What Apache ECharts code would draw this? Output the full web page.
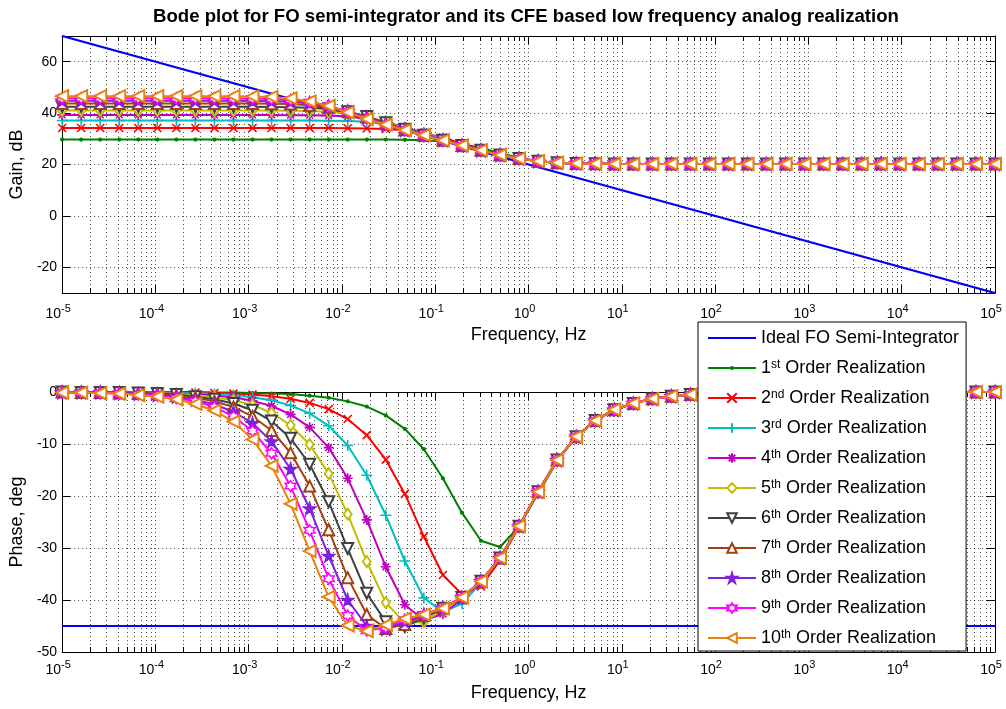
<!DOCTYPE html>
<html><head><meta charset="utf-8">
<script src="https://cdn.jsdelivr.net/npm/echarts@6/dist/echarts.min.js"></script>
<style>html,body{margin:0;padding:0;background:#fff}#c{width:1006px;height:709px}</style>
</head><body><div id="c"></div>
<script>
// ---------------- data ----------------
const freqHz = [1e-5,1.600e-5,2.560e-5,4.095e-5,6.551e-5,1.048e-4,1.677e-4,2.683e-4,4.292e-4,6.866e-4,
  1.0985e-3,1.7575e-3,2.812e-3,4.499e-3,7.197e-3,1.1514e-2,1.8421e-2,2.9471e-2,4.7152e-2,7.5438e-2,
  0.12068,0.19307,0.30888,0.49417,0.79060,1.2649,2.0236,3.2375,5.1795,8.2864,
  13.257,21.210,33.932,54.287,86.851,138.95,222.30,355.65,568.99,910.30,
  1456.3,2329.9,3727.6,5963.6,9540.9,15264,24421,39069,62506,1e5];

const idealFreqHz = [1e-5, 1e5];
const idealGainDb = [70, -30];
const idealPhaseDeg = [-45, -45];

const gain1 = [29.7,29.7,29.7,29.7,29.7,29.7,29.7,29.7,29.7,29.7, 29.7,29.7,29.7,29.7,29.7,29.7,29.7,29.7,29.6,29.4,
  28.9,28.0,26.4,24.4,22.6,21.3,20.7,20.4,20.3,20.2, 20.2,20.2,20.2,20.2,20.2,20.2,20.2,20.2,20.2,20.2, 20.2,20.2,20.2,20.2,20.2,20.2,20.2,20.2,20.2,20.2];
const gain2 = [34.2,34.2,34.2,34.2,34.2,34.2,34.2,34.2,34.2,34.2, 34.2,34.2,34.2,34.2,34.2,34.1,34.0,33.8,33.3,32.2,
  30.5,28.1,25.7,23.8,22.3,21.3,20.7,20.4,20.3,20.2, 20.2,20.2,20.2,20.2,20.2,20.2,20.2,20.2,20.2,20.2, 20.2,20.2,20.2,20.2,20.2,20.2,20.2,20.2,20.2,20.2];
const gain3 = [37.1,37.1,37.1,37.1,37.1,37.1,37.1,37.1,37.1,37.1, 37.1,37.1,37.1,37.1,37.0,36.9,36.6,35.9,34.5,32.4,
  29.9,27.5,25.5,23.7,22.3,21.3,20.7,20.4,20.3,20.2, 20.2,20.2,20.2,20.2,20.2,20.2,20.2,20.2,20.2,20.2, 20.2,20.2,20.2,20.2,20.2,20.2,20.2,20.2,20.2,20.2];
const gain4 = [39.3,39.3,39.3,39.3,39.3,39.3,39.3,39.3,39.3,39.3, 39.3,39.3,39.2,39.2,39.1,38.7,38.0,36.6,34.5,31.9,
  29.5,27.4,25.5,23.7,22.3,21.3,20.7,20.4,20.3,20.2, 20.2,20.2,20.2,20.2,20.2,20.2,20.2,20.2,20.2,20.2, 20.2,20.2,20.2,20.2,20.2,20.2,20.2,20.2,20.2,20.2];
const gain5 = [41.0,41.0,41.0,41.0,41.0,41.0,41.0,41.0,41.0,41.0, 41.0,41.0,40.9,40.8,40.5,39.9,38.6,36.6,34.0,31.5,
  29.4,27.4,25.5,23.7,22.3,21.3,20.7,20.4,20.3,20.2, 20.2,20.2,20.2,20.2,20.2,20.2,20.2,20.2,20.2,20.2, 20.2,20.2,20.2,20.2,20.2,20.2,20.2,20.2,20.2,20.2];
const gain6 = [42.5,42.5,42.5,42.5,42.5,42.5,42.5,42.5,42.5,42.5, 42.5,42.4,42.3,42.1,41.6,40.5,38.7,36.2,33.7,31.4,
  29.4,27.4,25.5,23.7,22.3,21.3,20.7,20.4,20.3,20.2, 20.2,20.2,20.2,20.2,20.2,20.2,20.2,20.2,20.2,20.2, 20.2,20.2,20.2,20.2,20.2,20.2,20.2,20.2,20.2,20.2];
const gain7 = [43.7,43.7,43.7,43.7,43.7,43.7,43.7,43.7,43.7,43.7, 43.7,43.6,43.5,43.1,42.3,40.7,38.5,35.9,33.5,31.4,
  29.4,27.4,25.5,23.7,22.3,21.3,20.7,20.4,20.3,20.2, 20.2,20.2,20.2,20.2,20.2,20.2,20.2,20.2,20.2,20.2, 20.2,20.2,20.2,20.2,20.2,20.2,20.2,20.2,20.2,20.2];
const gain8 = [44.8,44.8,44.8,44.8,44.8,44.8,44.8,44.8,44.8,44.8, 44.7,44.6,44.4,43.8,42.6,40.7,38.2,35.7,33.4,31.4,
  29.4,27.4,25.5,23.7,22.3,21.3,20.7,20.4,20.3,20.2, 20.2,20.2,20.2,20.2,20.2,20.2,20.2,20.2,20.2,20.2, 20.2,20.2,20.2,20.2,20.2,20.2,20.2,20.2,20.2,20.2];
const gain9 = [45.8,45.8,45.8,45.8,45.8,45.8,45.8,45.8,45.8,45.7, 45.7,45.5,45.1,44.3,42.8,40.5,37.9,35.5,33.4,31.4,
  29.4,27.4,25.5,23.7,22.3,21.3,20.7,20.4,20.3,20.2, 20.2,20.2,20.2,20.2,20.2,20.2,20.2,20.2,20.2,20.2, 20.2,20.2,20.2,20.2,20.2,20.2,20.2,20.2,20.2,20.2];
const gain10 = [46.6,46.6,46.6,46.6,46.6,46.6,46.6,46.6,46.6,46.6, 46.5,46.3,45.7,44.6,42.8,40.3,37.7,35.5,33.4,31.4,
  29.4,27.4,25.5,23.7,22.3,21.3,20.7,20.4,20.3,20.2, 20.2,20.2,20.2,20.2,20.2,20.2,20.2,20.2,20.2,20.2, 20.2,20.2,20.2,20.2,20.2,20.2,20.2,20.2,20.2,20.2];

const phase1 = [0,0,0,0,0,0,0,0,-0.1,-0.1, -0.2,-0.3,-0.4,-0.7,-1.1,-1.8,-2.8,-4.5,-7.1,-11.0,
  -16.6,-23.2,-28.6,-29.8,-25.9,-19.5,-13.3,-8.6,-5.5,-3.4, -2.2,-1.3,-0.8,-0.5,-0.3,-0.2,-0.1,-0.1,-0.1,0, 0,0,0,0,0,0,0,0,0,0];
const phase2 = [0,0,0,0,0,0,-0.1,-0.1,-0.2,-0.3, -0.5,-0.8,-1.3,-2.1,-3.3,-5.2,-8.3,-13.0,-19.6,-27.8,
  -35.2,-38.9,-37.4,-32.4,-25.9,-19.2,-13.1,-8.6,-5.5,-3.4, -2.2,-1.3,-0.8,-0.5,-0.3,-0.2,-0.1,-0.1,-0.1,0, 0,0,0,0,0,0,0,0,0,0];
const phase3 = [0,0,0,0,-0.1,-0.1,-0.2,-0.2,-0.4,-0.6, -1.0,-1.6,-2.6,-4.1,-6.5,-10.3,-16.0,-23.7,-32.5,-39.6,
  -42.3,-40.7,-36.7,-31.8,-25.8,-19.2,-13.1,-8.6,-5.5,-3.4, -2.2,-1.3,-0.8,-0.5,-0.3,-0.2,-0.1,-0.1,-0.1,0, 0,0,0,0,0,0,0,0,0,0];
const phase4 = [0,0,0,-0.1,-0.1,-0.2,-0.3,-0.4,-0.7,-1.0, -1.7,-2.7,-4.3,-6.8,-10.7,-16.6,-24.6,-33.6,-40.9,-43.9,
  -42.7,-39.8,-36.4,-31.8,-25.8,-19.2,-13.1,-8.6,-5.5,-3.4, -2.2,-1.3,-0.8,-0.5,-0.3,-0.2,-0.1,-0.1,-0.1,0, 0,0,0,0,0,0,0,0,0,0];
const phase5 = [0,0,-0.1,-0.1,-0.2,-0.2,-0.4,-0.6,-1.0,-1.6, -2.5,-4.0,-6.4,-10.1,-15.7,-23.5,-32.6,-40.5,-44.4,-44.2,
  -41.9,-39.5,-36.4,-31.9,-25.8,-19.2,-13.1,-8.6,-5.5,-3.4, -2.2,-1.3,-0.8,-0.5,-0.3,-0.2,-0.1,-0.1,-0.1,0, 0,0,0,0,0,0,0,0,0,0];
const phase6 = [0,-0.1,-0.1,-0.1,-0.2,-0.3,-0.5,-0.9,-1.4,-2.2, -3.5,-5.6,-8.9,-13.9,-21.1,-30.1,-38.7,-44.2,-45.1,-43.5,
  -41.6,-39.5,-36.4,-31.9,-25.8,-19.2,-13.1,-8.6,-5.5,-3.4, -2.2,-1.3,-0.8,-0.5,-0.3,-0.2,-0.1,-0.1,-0.1,0, 0,0,0,0,0,0,0,0,0,0];
const phase7 = [0,-0.1,-0.1,-0.2,-0.3,-0.4,-0.7,-1.1,-1.8,-2.9, -4.7,-7.4,-11.7,-18.1,-26.5,-35.7,-42.8,-45.5,-44.7,-43.0,
  -41.5,-39.5,-36.4,-31.9,-25.8,-19.2,-13.1,-8.6,-5.5,-3.4, -2.2,-1.3,-0.8,-0.5,-0.3,-0.2,-0.1,-0.1,-0.1,0, 0,0,0,0,0,0,0,0,0,0];
const phase8 = [-0.1,-0.1,-0.1,-0.2,-0.4,-0.6,-0.9,-1.5,-2.4,-3.8, -6.0,-9.5,-14.8,-22.4,-31.5,-40.0,-45.0,-45.6,-44.2,-42.8,
  -41.5,-39.5,-36.4,-31.9,-25.8,-19.2,-13.1,-8.6,-5.5,-3.4, -2.2,-1.3,-0.8,-0.5,-0.3,-0.2,-0.1,-0.1,-0.1,0, 0,0,0,0,0,0,0,0,0,0];
const phase9 = [-0.1,-0.1,-0.2,-0.3,-0.5,-0.7,-1.2,-1.8,-2.9,-4.7, -7.5,-11.8,-18.1,-26.6,-35.9,-43.0,-45.9,-45.3,-43.8,-42.8,
  -41.6,-39.5,-36.4,-31.9,-25.8,-19.2,-13.1,-8.6,-5.5,-3.4, -2.2,-1.3,-0.8,-0.5,-0.3,-0.2,-0.1,-0.1,-0.1,0, 0,0,0,0,0,0,0,0,0,0];
const phase10 = [-0.1,-0.1,-0.2,-0.3,-0.6,-0.9,-1.4,-2.3,-3.6,-5.7, -9.1,-14.2,-21.5,-30.6,-39.4,-44.9,-46.0,-44.8,-43.6,-42.8,
  -41.6,-39.5,-36.4,-31.9,-25.8,-19.2,-13.1,-8.6,-5.5,-3.4, -2.2,-1.3,-0.8,-0.5,-0.3,-0.2,-0.1,-0.1,-0.1,0, 0,0,0,0,0,0,0,0,0,0];

const seriesNames = ['Ideal FO Semi-Integrator','1st Order Realization','2nd Order Realization','3rd Order Realization',
  '4th Order Realization','5th Order Realization','6th Order Realization','7th Order Realization',
  '8th Order Realization','9th Order Realization','10th Order Realization'];
const gainTickLabels = [-20, 0, 20, 40, 60];
const phaseTickLabels = [-50, -40, -30, -20, -10, 0];
const decadeExponents = [-5,-4,-3,-2,-1,0,1,2,3,4,5];

// ---------------- styling ----------------
const FONT = 'Liberation Sans';
const gains = [gain1,gain2,gain3,gain4,gain5,gain6,gain7,gain8,gain9,gain10];
const phases = [phase1,phase2,phase3,phase4,phase5,phase6,phase7,phase8,phase9,phase10];
const STAR5 = 'path://M10,0L12.245,6.91L19.511,6.91L13.633,11.18L15.878,18.09L10,13.82L4.122,18.09L6.367,11.18L0.489,6.91L7.755,6.91Z';
const STAR6 = 'path://M10,0L12.887,5L18.66,5L15.774,10L18.66,15L12.887,15L10,20L7.113,15L1.34,15L4.226,10L1.34,5L7.113,5Z';
const XMARK = 'path://M0,0L10,10M10,0L0,10';
const PLUS = 'path://M5,0L5,10M0,5L10,5';
const ASTER = 'path://M5,0L5,10M0,5L10,5M1.6,1.6L8.4,8.4M8.4,1.6L1.6,8.4';
const SMALLDOT = 'path://M0,0M12,12M3.5,6A2.5,2.5,0,1,0,8.5,6A2.5,2.5,0,1,0,3.5,6Z';
const styles = [
  {color:'#0000FF', symbol:'none', width:2.2},
  {color:'#008000', symbol:SMALLDOT, size:10, dot:true},
  {color:'#FF0000', symbol:XMARK, size:8, stroke:true},
  {color:'#00BFBF', symbol:PLUS, size:11, stroke:true},
  {color:'#BF00BF', symbol:ASTER, size:10, stroke:true},
  {color:'#BFBF00', symbol:'emptyDiamond', size:[8,11]},
  {color:'#404040', symbol:'emptyTriangle', size:11, rotate:180},
  {color:'#A5400F', symbol:'emptyTriangle', size:11},
  {color:'#7F1FDF', symbol:STAR5, size:12},
  {color:'#FF00FF', symbol:STAR6, size:11, hollow:true},
  {color:'#E8820E', symbol:'emptyTriangle', size:12, rotate:90}
];

// grid lines at 1..9 x 10^n on the log frequency axis
const gridExponents = [];
for (const n of decadeExponents.slice(0, -1)) for (let k = 1; k <= 9; k++) gridExponents.push(n + Math.log10(k));
gridExponents.push(5);

const dotted = {color:'#000', type:[1,3], width:1, opacity:0.7};
const black = {color:'#000', width:1};

function xAxesFor(g, labelMargin, nameGap) {
  const base = {gridIndex:g, type:'value', min:-5, max:5};
  return [
    Object.assign({}, base, {position:'bottom',
      axisLine:{show:true, onZero:false, lineStyle:black},
      axisTick:{show:true, inside:true, length:8, customValues:decadeExponents, lineStyle:black},
      axisLabel:{show:true, customValues:decadeExponents, margin:labelMargin, padding:[0,8,0,0],
        formatter: v => '{b|10}{s|' + Math.round(v) + '}',
        rich:{b:{fontFamily:FONT, fontSize:14, color:'#000'},
              s:{fontFamily:FONT, fontSize:11, color:'#000', padding:[0,0,12,0]}}},
      splitLine:{show:false},
      name:'Frequency, Hz', nameLocation:'middle', nameGap:nameGap,
      nameTextStyle:{fontFamily:FONT, fontSize:18, color:'#000'}}),
    Object.assign({}, base, {position:'bottom',
      axisLine:{show:false, onZero:false},
      axisTick:{show:true, inside:true, length:5, customValues:gridExponents, lineStyle:black},
      axisLabel:{show:false}, splitLine:{show:true, lineStyle:dotted}}),
    Object.assign({}, base, {position:'top',
      axisLine:{show:true, onZero:false, lineStyle:black},
      axisTick:{show:true, inside:true, length:8, customValues:decadeExponents, lineStyle:black},
      axisLabel:{show:false}, splitLine:{show:false}}),
    Object.assign({}, base, {position:'top',
      axisLine:{show:false, onZero:false},
      axisTick:{show:true, inside:true, length:5, customValues:gridExponents, lineStyle:black},
      axisLabel:{show:false}, splitLine:{show:false}})
  ];
}

function yAxesFor(g, min, max, ticks, name) {
  const base = {gridIndex:g, type:'value', min:min, max:max};
  return [
    Object.assign({}, base, {position:'left',
      axisLine:{show:true, onZero:false, lineStyle:black},
      axisTick:{show:true, inside:true, length:8, customValues:ticks, lineStyle:black},
      axisLabel:{show:true, customValues:ticks, margin:5, fontFamily:FONT, fontSize:14, color:'#000'},
      splitLine:{show:true, lineStyle:dotted},
      name:name, nameLocation:'middle', nameGap:31, nameRotate:90,
      nameTextStyle:{fontFamily:FONT, fontSize:18, color:'#000'}}),
    Object.assign({}, base, {position:'right',
      axisLine:{show:true, onZero:false, lineStyle:black},
      axisTick:{show:true, inside:true, length:8, customValues:ticks, lineStyle:black},
      axisLabel:{show:false}, splitLine:{show:false}})
  ];
}

function makeSeries(k, xIdx, yIdx, data) {
  const st = styles[k];
  const s = {
    name: seriesNames[k], type:'line', xAxisIndex:xIdx, yAxisIndex:yIdx,
    data: data, symbol: st.symbol, symbolSize: st.size || 0, symbolRotate: st.rotate || 0,
    showSymbol: st.symbol !== 'none', showAllSymbol:true, clip:true,
    lineStyle:{color:st.color, width:st.width || 2},
    itemStyle:{color:st.color, borderColor:st.color, borderWidth:1.5},
    emphasis:{disabled:true}, animation:false, z: 2 + k
  };
  if (st.stroke) s.itemStyle = {color:st.color, borderColor:st.color, borderWidth:1.6};
  if (st.hollow) s.itemStyle = {color:'#fff', borderColor:st.color, borderWidth:1.5};
  if (st.dot) s.itemStyle = {color:st.color, borderWidth:0};
  return s;
}

const series = [];
series.push(makeSeries(0, 0, 0, idealFreqHz.map((f, i) => [Math.log10(f), idealGainDb[i]])));
for (let k = 1; k <= 10; k++) series.push(makeSeries(k, 0, 0, freqHz.map((f, i) => [Math.log10(f), gains[k-1][i]])));
series.push(makeSeries(0, 4, 2, idealFreqHz.map((f, i) => [Math.log10(f), idealPhaseDeg[i]])));
for (let k = 1; k <= 10; k++) series.push(makeSeries(k, 4, 2, freqHz.map((f, i) => [Math.log10(f), phases[k-1][i]])));

const legendData = seriesNames.map((n, k) => (k === 0 ? {name:n, itemStyle:{opacity:0}} : {name:n}));

const option = {
  backgroundColor:'#fff',
  animation:false,
  textStyle:{fontFamily:FONT},
  title:{text:'Bode plot for FO semi-integrator and its CFE based low frequency analog realization',
    left:153, top:7, padding:0,
    textStyle:{fontFamily:FONT, fontSize:18.6, fontWeight:'bold', color:'#000'}},
  grid:[
    {left:62, right:11, top:36, height:257},
    {left:62, right:11, top:392, height:260}
  ],
  xAxis: xAxesFor(0, 10, 33).concat(xAxesFor(1, 7, 32)),
  yAxis: yAxesFor(0, -30, 70, gainTickLabels, 'Gain, dB').concat(yAxesFor(1, -50, 0, phaseTickLabels, 'Phase, deg')),
  legend:{
    orient:'vertical', left:698, top:322, padding:[3,7,4,9],
    itemWidth:48, itemHeight:12, itemGap:8,
    backgroundColor:'#fff', borderColor:'#000', borderWidth:1,
    selectedMode:false, data:legendData, z:20,
    formatter: name => {
      const m = name.match(/^(\d+)(st|nd|rd|th)(.*)$/);
      if (!m) return '{n|' + name + '}';
      return '{n|' + m[1] + '}{s|' + m[2] + '}{n|' + m[3] + '}';
    },
    textStyle:{fontFamily:FONT, fontSize:18, color:'#000',
      rich:{n:{fontFamily:FONT, fontSize:18, color:'#000', lineHeight:18, verticalAlign:'bottom', padding:[4,0,0,0]},
            s:{fontFamily:FONT, fontSize:12, color:'#000', lineHeight:12, verticalAlign:'top'}}}
  },
  series: series
};

const chart = echarts.init(document.getElementById('c'), null, {renderer:'canvas'});
chart.setOption(option);
</script>
</body></html>
